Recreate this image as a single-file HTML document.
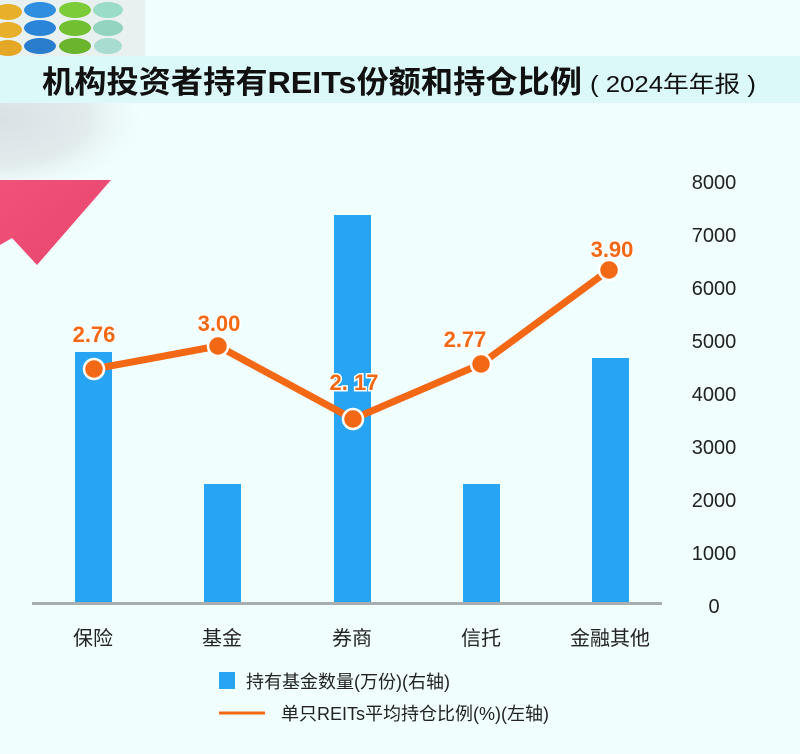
<!DOCTYPE html>
<html><head><meta charset="utf-8"><style>
html,body{margin:0;padding:0}
body{width:800px;height:754px;background:#f1fefe;position:relative;overflow:hidden;font-family:"Liberation Sans","Noto Sans CJK SC",sans-serif}
svg{position:absolute;left:0;top:0}
</style></head><body>
<svg width="800" height="754" viewBox="0 0 800 754">
<defs>
<radialGradient id="sh" cx="0" cy="0.2" r="1">
<stop offset="0" stop-color="#d8e2e6"/><stop offset="0.6" stop-color="#e2eced"/><stop offset="1" stop-color="#f1fefe" stop-opacity="0"/>
</radialGradient>
<linearGradient id="pk" x1="0" y1="0" x2="1" y2="1"><stop offset="0" stop-color="#f0527a"/><stop offset="1" stop-color="#e8466d"/></linearGradient>
</defs>
<rect x="0" y="103" width="150" height="80" fill="url(#sh)"/>
<rect x="0" y="0" width="145" height="85" fill="#e9f0f0"/>
<g>
<ellipse cx="8" cy="12" rx="14" ry="8" fill="#e8b02a"/><ellipse cx="8" cy="30" rx="14" ry="8" fill="#e8b02a"/><ellipse cx="8" cy="48" rx="14" ry="8" fill="#e4a826"/><ellipse cx="8" cy="66" rx="14" ry="8" fill="#d89a22"/>
<ellipse cx="40" cy="10" rx="16" ry="8" fill="#2f8ee0"/><ellipse cx="40" cy="28" rx="16" ry="8" fill="#2a84d8"/><ellipse cx="40" cy="46" rx="16" ry="8" fill="#2a7ccc"/><ellipse cx="40" cy="64" rx="16" ry="8" fill="#2470c0"/>
<ellipse cx="75" cy="10" rx="16" ry="8" fill="#7ccc3a"/><ellipse cx="75" cy="28" rx="16" ry="8" fill="#72c032"/><ellipse cx="75" cy="46" rx="16" ry="8" fill="#6ab42e"/><ellipse cx="75" cy="64" rx="15" ry="8" fill="#5ea828"/>
<ellipse cx="108" cy="10" rx="15" ry="8" fill="#9adcc8"/><ellipse cx="108" cy="28" rx="15" ry="8" fill="#92d4c0"/><ellipse cx="108" cy="46" rx="14" ry="8" fill="#a8dcd0"/>
</g>
<polygon points="0,180 111,180 37,265 12,238 0,245" fill="url(#pk)"/>
<rect x="0" y="56" width="800" height="47" fill="#dcf9fa"/>
<text x="42" y="93" font-size="31" font-weight="bold" fill="#111" textLength="540" lengthAdjust="spacingAndGlyphs">机构投资者持有REITs份额和持仓比例</text>
<text x="590" y="92" font-size="23" fill="#111" textLength="166" lengthAdjust="spacingAndGlyphs">( 2024年年报 )</text>
<g fill="#27a4f4">
<rect x="75" y="352" width="37" height="251"/>
<rect x="204" y="484" width="37" height="119"/>
<rect x="334" y="215" width="37" height="388"/>
<rect x="463" y="484" width="37" height="119"/>
<rect x="592" y="358" width="37" height="245"/>
</g>
<line x1="32" y1="603.5" x2="662" y2="603.5" stroke="#a8aeb0" stroke-width="3"/>
<g font-size="20" fill="#222" text-anchor="middle">
<text x="714" y="189">8000</text><text x="714" y="242">7000</text><text x="714" y="295">6000</text><text x="714" y="348">5000</text><text x="714" y="401">4000</text><text x="714" y="454">3000</text><text x="714" y="507">2000</text><text x="714" y="560">1000</text><text x="714" y="613">0</text>
</g>
<polyline points="94,369 218,346 353,419 481,364 609,270" fill="none" stroke="#f26814" stroke-width="7" stroke-linejoin="round"/>
<g fill="#f26814" stroke="#fff" stroke-width="2.5">
<circle cx="94" cy="369" r="10"/><circle cx="218" cy="346" r="10"/><circle cx="353" cy="419" r="10"/><circle cx="481" cy="364" r="10"/><circle cx="609" cy="270" r="10"/>
</g>
<g font-size="22" font-weight="bold" fill="#f26814" text-anchor="middle" stroke="#fff" stroke-width="3" paint-order="stroke">
<text x="94" y="342">2.76</text><text x="219" y="331">3.00</text><text x="354" y="390">2. 17</text><text x="465" y="347">2.77</text><text x="612" y="257">3.90</text>
</g>
<g font-size="20" fill="#222" text-anchor="middle">
<text x="93" y="645">保险</text><text x="222" y="645">基金</text><text x="352" y="645">券商</text><text x="481" y="645">信托</text><text x="610" y="645">金融其他</text>
</g>
<rect x="219" y="672" width="16" height="17" fill="#27a4f4"/>
<text x="246" y="688" font-size="18" fill="#222">持有基金数量(万份)(右轴)</text>
<line x1="219" y1="713" x2="265" y2="713" stroke="#f26814" stroke-width="3"/>
<text x="281" y="720" font-size="18" fill="#222">单只REITs平均持仓比例(%)(左轴)</text>
</svg>
</body></html>
